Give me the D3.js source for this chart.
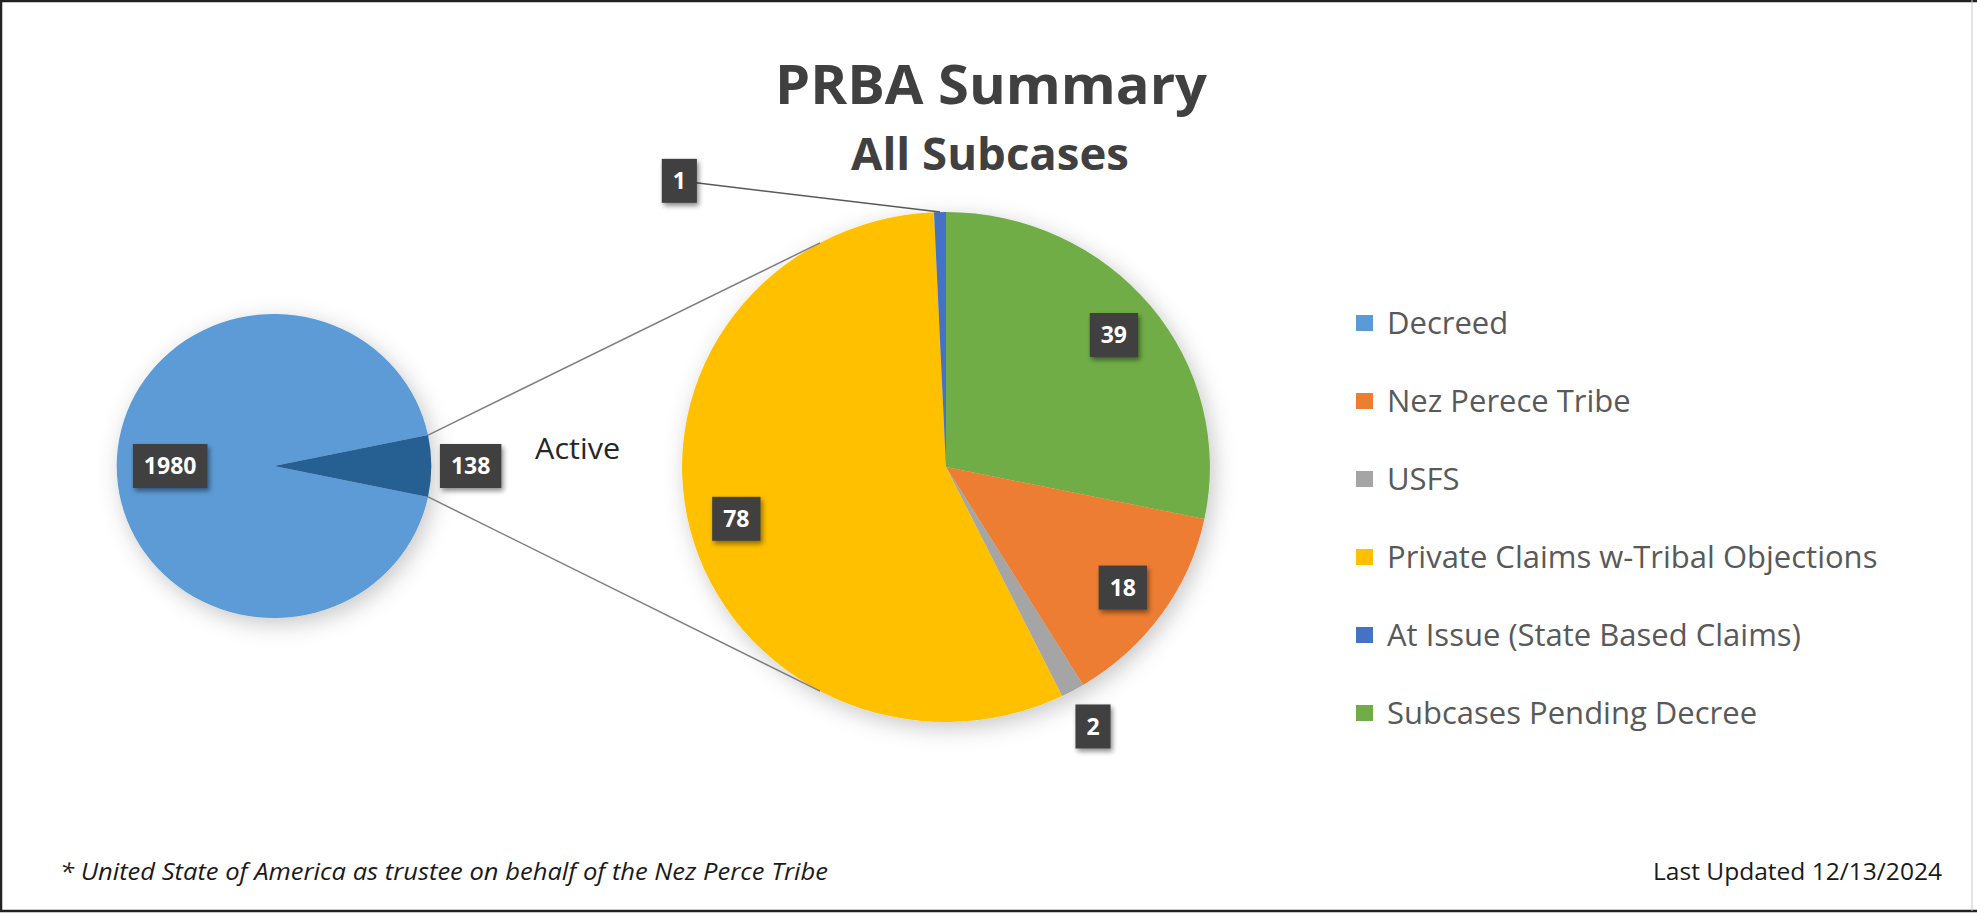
<!DOCTYPE html>
<html>
<head>
<meta charset="utf-8">
<script src="https://cdn.jsdelivr.net/npm/d3@7"></script>
<style>
body { margin: 0; background: #fff; }
svg { display: block; font-family: "Open Sans", sans-serif; }
</style>
</head>
<body>
<script>
var width = 1977, height = 914;

// left pie: all subcases
var mainCategories = ["Decreed", "Active"];
var mainValues = [1980, 138];

// right pie: the active ones, clockwise from 12 o'clock
var activeCategories = ["Subcases Pending Decree", "Nez Perece Tribe", "USFS", "Private Claims w-Tribal Objections", "At Issue (State Based Claims)"];
var activeValues = [39, 18, 2, 78, 1];

var legendCategories = ["Decreed", "Nez Perece Tribe", "USFS", "Private Claims w-Tribal Objections", "At Issue (State Based Claims)", "Subcases Pending Decree"];
var legendColors = ["#5B9BD5", "#ED7D31", "#A5A5A5", "#FFC000", "#4472C4", "#70AD47"];

var titleText = "PRBA Summary";
var subtitleText = "All Subcases";
var splitLabel = "Active";
var footnoteText = "* United State of America as trustee on behalf of the Nez Perce Tribe";
var updatedText = "Last Updated 12/13/2024";

var color = d3.scaleOrdinal()
    .domain(legendCategories.concat(["Active"]))
    .range(legendColors.concat(["#255E91"]));

var svg = d3.select("body").append("svg").attr("width", width).attr("height", height);
var defs = svg.append("defs");

defs.append("filter").attr("id", "pieShadow")
    .attr("x", "-30%").attr("y", "-30%").attr("width", "160%").attr("height", "160%")
    .append("feDropShadow")
    .attr("dx", 4).attr("dy", 6).attr("stdDeviation", 11)
    .attr("flood-color", "#000").attr("flood-opacity", 0.22);

defs.append("filter").attr("id", "boxShadow")
    .attr("x", "-40%").attr("y", "-40%").attr("width", "180%").attr("height", "180%")
    .append("feDropShadow")
    .attr("dx", 2).attr("dy", 3).attr("stdDeviation", 2.5)
    .attr("flood-color", "#000").attr("flood-opacity", 0.45);

// frame
svg.append("rect").attr("x", 0).attr("y", 0).attr("width", width).attr("height", height).attr("fill", "#fff");
svg.append("line").attr("x1", 0).attr("x2", width).attr("y1", 1).attr("y2", 1).attr("stroke", "#222").attr("stroke-width", 2.5);
svg.append("line").attr("x1", 1).attr("x2", 1).attr("y1", 0).attr("y2", 912).attr("stroke", "#222").attr("stroke-width", 2.5);
svg.append("line").attr("x1", 0).attr("x2", width).attr("y1", 911).attr("y2", 911).attr("stroke", "#222").attr("stroke-width", 2.5);
svg.append("line").attr("x1", 1972).attr("x2", 1972).attr("y1", 0).attr("y2", 911).attr("stroke", "#c8c8c8").attr("stroke-width", 1);

// pies are a touch wider than tall in the original
var sx = 1.035;
var leftPie = { cx: 274, cy: 466, r: 152 };
var rightPie = { cx: 946, cy: 467, r: 255 };

function pt(c, a, k) {
    var p = d3.pointRadial(a, c.r * k);
    return [c.cx + p[0] * sx, c.cy + p[1]];
}

var mainData = mainCategories.map(function (c, i) { return { name: c, value: mainValues[i] }; });
var activeData = activeCategories.map(function (c, i) { return { name: c, value: activeValues[i] }; });

var activeAngle = 2 * Math.PI * mainValues[1] / d3.sum(mainValues);
var mainStart = Math.PI / 2 + activeAngle / 2;
var mainArcs = d3.pie().sort(null).value(function (d) { return d.value; })
    .startAngle(mainStart).endAngle(mainStart + 2 * Math.PI)(mainData);
var activeArcs = d3.pie().sort(null).value(function (d) { return d.value; })(activeData);

function drawPie(c, arcs) {
    var g = svg.append("g")
        .attr("transform", "translate(" + c.cx + "," + c.cy + ") scale(" + sx + ",1)")
        .attr("filter", "url(#pieShadow)");
    var arc = d3.arc().innerRadius(0).outerRadius(c.r);
    g.selectAll("path").data(arcs).enter().append("path")
        .attr("d", arc)
        .attr("fill", function (d) { return color(d.data.name); });
}

drawPie(leftPie, mainArcs);
drawPie(rightPie, activeArcs);

// connector lines between the active wedge and the second pie
var act = mainArcs[1];
var joinAngle = 28.5 * Math.PI / 180;
var connectors = [
    [pt(leftPie, act.startAngle, 1), pt(rightPie, -joinAngle, 1)],
    [pt(leftPie, act.endAngle, 1), pt(rightPie, Math.PI + joinAngle, 1)]
];
svg.selectAll("line.connector").data(connectors).enter().append("line")
    .attr("class", "connector")
    .attr("x1", function (d) { return d[0][0]; }).attr("y1", function (d) { return d[0][1]; })
    .attr("x2", function (d) { return d[1][0]; }).attr("y2", function (d) { return d[1][1]; })
    .attr("stroke", "#7f7f7f").attr("stroke-width", 1.5);

// data labels
var placement = {
    "Decreed": { k: 0.66 },
    "Active": { k: 1.25 },
    "USFS": { k: 1.16 },
    "At Issue (State Based Claims)": { k: 1.51, angle: -42 * Math.PI / 180, leader: true }
};

function labelBox(x, y, txt) {
    var g = svg.append("g").attr("transform", "translate(" + x + "," + y + ")");
    var rect = g.append("rect").attr("fill", "#404040").attr("filter", "url(#boxShadow)");
    var t = g.append("text")
        .attr("text-anchor", "middle").attr("dy", "0.36em")
        .attr("fill", "#fff").attr("font-weight", 700).attr("font-size", 23)
        .text(txt);
    var b = t.node().getBBox();
    var w = b.width + 22, h = 44;
    rect.attr("x", -w / 2).attr("y", -h / 2).attr("width", w).attr("height", h);
    return w;
}

function drawLabels(c, arcs) {
    arcs.forEach(function (d) {
        var p = placement[d.data.name] || { k: 0.82 };
        var mid = (d.startAngle + d.endAngle) / 2;
        var pos = pt(c, p.angle !== undefined ? p.angle : mid, p.k);
        if (p.leader) {
            var edge = pt(c, mid, 1);
            svg.append("line")
                .attr("x1", pos[0]).attr("y1", pos[1])
                .attr("x2", edge[0]).attr("y2", edge[1])
                .attr("stroke", "#595959").attr("stroke-width", 1.5);
        }
        labelBox(pos[0], pos[1], d.data.value);
    });
}

drawLabels(leftPie, mainArcs);
drawLabels(rightPie, activeArcs);

var ap = pt(leftPie, Math.PI / 2, 1.93);
svg.append("text")
    .attr("x", ap[0]).attr("y", ap[1] - 7)
    .attr("text-anchor", "middle")
    .attr("font-size", 30).attr("fill", "#262626")
    .attr("textLength", 85).attr("lengthAdjust", "spacingAndGlyphs")
    .text(splitLabel);

// titles
svg.append("text")
    .attr("x", 991).attr("y", 104)
    .attr("text-anchor", "middle")
    .attr("font-size", 54).attr("font-weight", 700).attr("fill", "#404040")
    .attr("textLength", 432).attr("lengthAdjust", "spacingAndGlyphs")
    .text(titleText);

svg.append("text")
    .attr("x", 990).attr("y", 170)
    .attr("text-anchor", "middle")
    .attr("font-size", 45).attr("font-weight", 700).attr("fill", "#404040")
    .attr("textLength", 278).attr("lengthAdjust", "spacingAndGlyphs")
    .text(subtitleText);

// legend
var ly = d3.scalePoint().domain(legendCategories).range([323, 713]);
var legend = svg.append("g");
var items = legend.selectAll("g").data(legendCategories).enter().append("g")
    .attr("transform", function (d) { return "translate(1356," + ly(d) + ")"; });
items.append("rect")
    .attr("x", 0).attr("y", -8).attr("width", 17).attr("height", 16)
    .attr("fill", function (d) { return color(d); });
items.append("text")
    .attr("x", 31).attr("dy", "0.35em")
    .attr("font-size", 31).attr("fill", "#595959")
    .text(function (d) { return d; });

// footer
svg.append("text")
    .attr("x", 60).attr("y", 880)
    .attr("font-size", 23).attr("font-style", "italic").attr("fill", "#1a1a1a")
    .attr("textLength", 768).attr("lengthAdjust", "spacingAndGlyphs")
    .text(footnoteText);

svg.append("text")
    .attr("x", 1942).attr("y", 880)
    .attr("text-anchor", "end")
    .attr("font-size", 23).attr("fill", "#1a1a1a")
    .attr("textLength", 289).attr("lengthAdjust", "spacingAndGlyphs")
    .text(updatedText);
</script>
</body>
</html>
